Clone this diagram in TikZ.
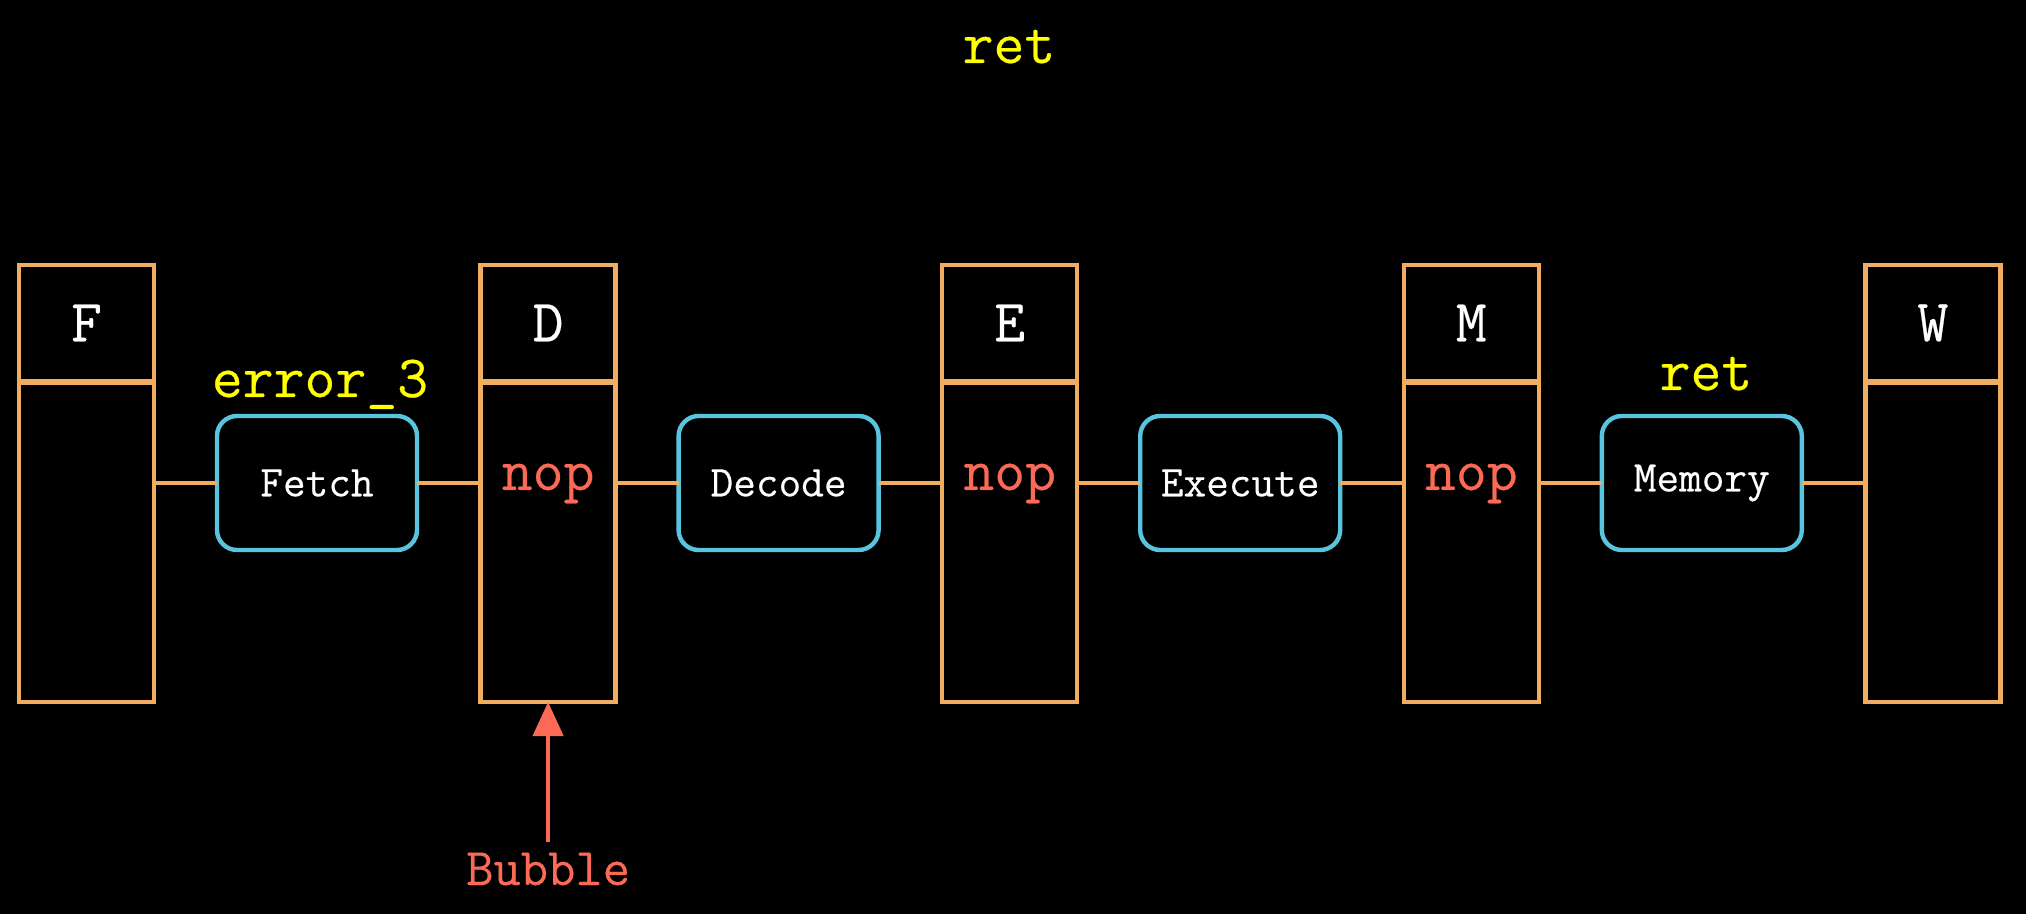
\documentclass[tikz,border=0pt]{standalone}
\usepackage{fontspec}
\setmonofont{lmmono12-regular.otf}[FakeBold=0.35]
\usetikzlibrary{arrows.meta}
\definecolor{regc}{HTML}{F0AC5F}
\definecolor{stagec}{HTML}{58C4DD}
\definecolor{instrc}{HTML}{FFFF00}
\definecolor{nopc}{HTML}{FC6A55}
\begin{document}
\begin{tikzpicture}[x=0.5pt,y=-0.5pt,
  reghead/.style={draw=regc, line width=2.2pt, minimum width=67.5pt, minimum height=58pt, inner sep=0pt, outer sep=0pt, text=white, font=\ttfamily\fontsize{30}{36}\selectfont},
  regbody/.style={draw=regc, line width=2.2pt, minimum width=67.5pt, minimum height=159.5pt, inner sep=0pt, outer sep=0pt},
  stagebox/.style={draw=stagec, line width=2.2pt, rounded corners=10pt, minimum width=100pt, minimum height=67pt, inner sep=0pt, outer sep=0pt, text=white, font=\ttfamily\fontsize{22}{26}\selectfont},
  noptext/.style={text=nopc, anchor=base, inner sep=0pt, font=\ttfamily\fontsize{30}{36}\selectfont},
  instr/.style={text=instrc, anchor=base, inner sep=0pt, font=\ttfamily\fontsize{30}{36}\selectfont},
  wire/.style={draw=regc, line width=2.2pt},
  bubarrow/.style={draw=nopc, line width=2.2pt, -{Triangle[length=17pt,width=15pt]}}
]
\fill[black] (0,0) rectangle (2026,914);
\useasboundingbox (0,0) rectangle (2026,914);

% pipeline registers
\node[reghead] (Fh) at (86.5,323) {F};
\node[regbody] (Fb) at (86.5,542.5) {};
\node[reghead] (Dh) at (548.1,323) {D};
\node[regbody] (Db) at (548.1,542.5) {};
\node[reghead] (Eh) at (1009.7,323) {E};
\node[regbody] (Eb) at (1009.7,542.5) {};
\node[reghead] (Mh) at (1471.3,323) {M};
\node[regbody] (Mb) at (1471.3,542.5) {};
\node[reghead] (Wh) at (1932.9,323) {W};
\node[regbody] (Wb) at (1932.9,542.5) {};

% stages
\node[stagebox] (Fetch) at (317,483) {Fetch};
\node[stagebox] (Decode) at (778.6,483) {Decode};
\node[stagebox] (Execute) at (1240.2,483) {Execute};
\node[stagebox] (Memory) at (1701.8,483) {Memory};

% wires
\draw[wire] (Fb.east |- Fetch.west) -- (Fetch.west);
\draw[wire] (Fetch.east) -- (Fetch.east -| Db.west);
\draw[wire] (Db.east |- Decode.west) -- (Decode.west);
\draw[wire] (Decode.east) -- (Decode.east -| Eb.west);
\draw[wire] (Eb.east |- Execute.west) -- (Execute.west);
\draw[wire] (Execute.east) -- (Execute.east -| Mb.west);
\draw[wire] (Mb.east |- Memory.west) -- (Memory.west);
\draw[wire] (Memory.east) -- (Memory.east -| Wb.west);

% contents
\node[noptext] (nopD) at (548.1,490) {nop};
\node[noptext] (nopE) at (1009.7,490) {nop};
\node[noptext] (nopM) at (1471.3,490) {nop};

\node[instr] (err) at (320,397) {error\_3};
\node[instr] (retM) at (1706,390) {ret};
\node[instr] (retTop) at (1009,63) {ret};

% bubble
\node[noptext, font=\ttfamily\fontsize{26.5}{30}\selectfont] (Bubble) at (548.1,885) {Bubble};
\draw[bubarrow] ([yshift=5pt]Bubble.north) -- (Db.south);
\end{tikzpicture}
\end{document}
